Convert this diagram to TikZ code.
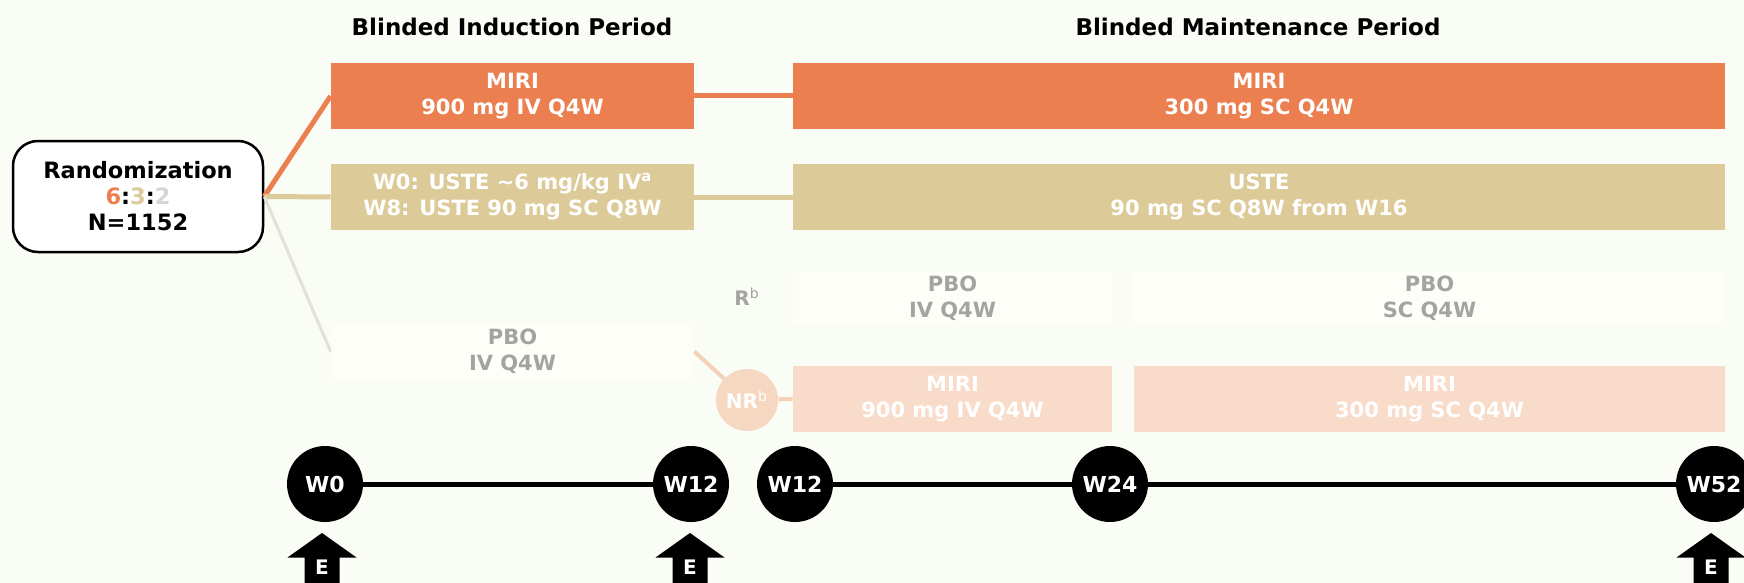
\documentclass[tikz,border=0pt]{standalone}
\usepackage{fontspec}
\setmainfont{DejaVu Sans}
\definecolor{bg}{HTML}{FAFCF6}
\definecolor{orangeA}{HTML}{EB7F50}
\definecolor{tanA}{HTML}{DCCB99}
\definecolor{greyA}{HTML}{D5D5D5}
\definecolor{greytext}{HTML}{A3A3A3}
\definecolor{greyline}{HTML}{E4E2D6}
\definecolor{fadeorange}{HTML}{F8DCC9}
\definecolor{nrfill}{HTML}{F6D8C2}
\definecolor{nrline}{HTML}{F3D2B8}
\definecolor{pbofill}{HTML}{FEFEF8}
\begin{document}
\begin{tikzpicture}[x=0.5pt,y=-0.5pt,
  title/.style={font=\fontsize{11.5}{13}\selectfont\bfseries, text=black, inner sep=0pt},
  randbox/.style={draw=black, line width=1.25pt, fill=white, rounded corners=12.5pt, align=center, inner sep=0pt, font=\fontsize{11.25}{13}\selectfont\bfseries},
  box/.style={rectangle, inner sep=0pt, align=center, text=white, font=\fontsize{10.5}{13}\selectfont\bfseries},
  pbobox/.style={box, fill=pbofill, text=greytext},
  fadebox/.style={box, fill=fadeorange, text=white},
  nrc/.style={circle, fill=nrfill, text=white, minimum size=31pt, inner sep=0pt, font=\fontsize{10}{12}\selectfont\bfseries},
  rlab/.style={inner sep=0pt, text=greytext, font=\fontsize{10}{12}\selectfont\bfseries},
  tl/.style={circle, fill=black, text=white, minimum size=38pt, inner sep=0pt, font=\fontsize{11}{13}\selectfont\bfseries},
  etext/.style={inner sep=0pt, text=white, font=\fontsize{10}{12}\selectfont\bfseries},
  thick line/.style={line width=2.5pt},
]
\fill[bg] (0,0) rectangle (1744,583);
\useasboundingbox (0,0) rectangle (1744,583);

% titles
\node[title] (t1) at (512,27) {Blinded Induction Period};
\node[title] (t2) at (1258,27) {Blinded Maintenance Period};

% randomization
\node[randbox, minimum width=125pt, minimum height=55.5pt] (rand) at (138,196.5)
  {Randomization\\{\color{orangeA}6}:{\color{tanA}3}:{\color{greyA}2}\\N=1152};

% induction boxes
\node[box, fill=orangeA, minimum width=181.5pt, minimum height=33pt] (miri1) at (512.5,96) {MIRI\\900 mg IV Q4W};
\node[box, fill=tanA, minimum width=181.5pt, minimum height=33pt] (uste1) at (512.5,197) {W0: USTE \textasciitilde6 mg/kg IV\textsuperscript{a}\\W8: USTE 90 mg SC Q8W};
\node[pbobox, minimum width=181.5pt, minimum height=28.5pt] (pbo1) at (512.5,351.5) {PBO\\IV Q4W};

% maintenance boxes
\node[box, fill=orangeA, minimum width=466pt, minimum height=33pt] (miri2) at (1259,96) {MIRI\\300 mg SC Q4W};
\node[box, fill=tanA, minimum width=466pt, minimum height=33pt] (uste2) at (1259,197) {USTE\\90 mg SC Q8W from W16};
\node[pbobox, minimum width=159.5pt, minimum height=26.5pt] (pbo2) at (952.5,298.5) {PBO\\IV Q4W};
\node[pbobox, minimum width=295.5pt, minimum height=26.5pt] (pbo3) at (1429.5,298.5) {PBO\\SC Q4W};
\node[fadebox, minimum width=159.5pt, minimum height=33pt] (miri3) at (952.5,399) {MIRI\\900 mg IV Q4W};
\node[fadebox, minimum width=295.5pt, minimum height=33pt] (miri4) at (1429.5,399) {MIRI\\300 mg SC Q4W};

% responder labels
\node[rlab] (r) at (747,297) {R\textsuperscript{\mdseries b}};
\node[nrc] (nr) at (747,400) {NR\textsuperscript{\mdseries b}};

% connectors
\draw[orangeA, thick line] (rand.east) -- (miri1.west);
\draw[tanA, thick line] (rand.east) -- (uste1.west);
\draw[greyline, line width=1.5pt] (rand.east) -- (pbo1.west);
\draw[orangeA, thick line] (miri1.east) -- (miri2.west);
\draw[tanA, thick line] (uste1.east) -- (uste2.west);
\draw[nrline, line width=2pt] (pbo1.east) -- (nr);
\draw[nrline, line width=2pt] (nr) -- (miri3.west);

% timeline
\node[tl] (w0) at (325,484) {W0};
\node[tl] (w12a) at (691,484) {W12};
\node[tl] (w12b) at (795,484) {W12};
\node[tl] (w24) at (1110,484) {W24};
\node[tl] (w52) at (1714,484) {W52};
\draw[thick line] (w0) -- (w12a);
\draw[thick line] (w12b) -- (w24) -- (w52);

% E arrows
\foreach \x/\n in {322/e0, 690/e12, 1711/e52}{
  \fill[black] (\x-34.5,557.5) -- (\x,533) -- (\x+34.5,557.5) -- (\x+17.5,557.5)
     -- (\x+17.5,583) -- (\x-17.5,583) -- (\x-17.5,557.5) -- cycle;
  \node[etext] (\n) at (\x,567) {E};
}
\end{tikzpicture}
\end{document}
